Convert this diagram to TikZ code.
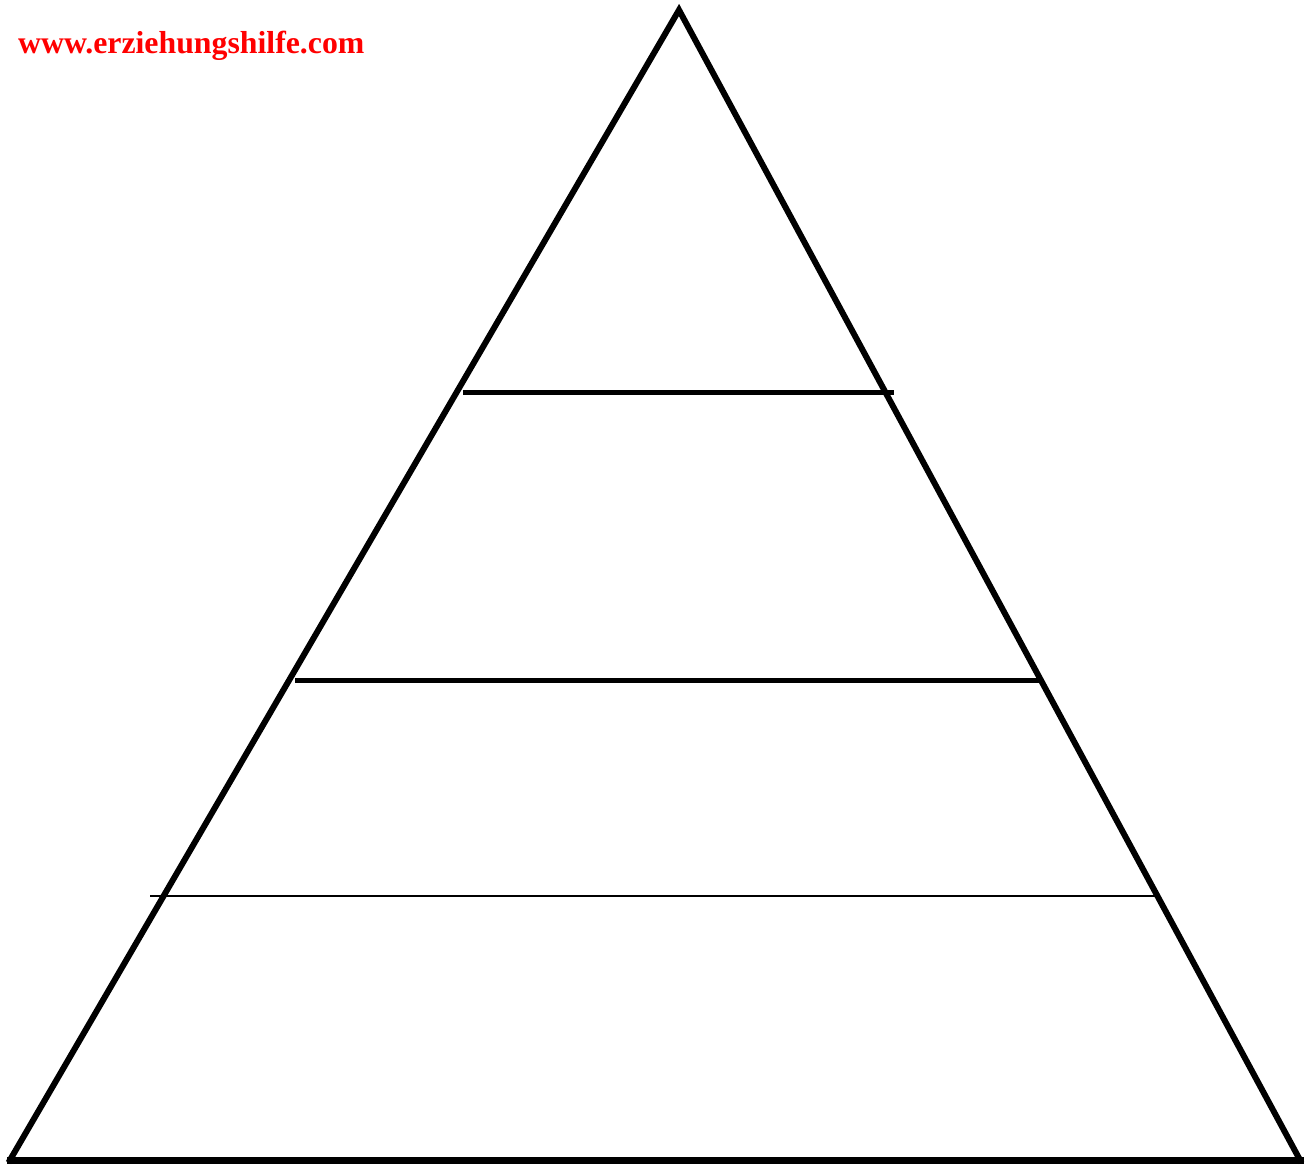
\documentclass[tikz,border=0pt]{standalone}
\usepackage{fontspec}
\setmainfont{Liberation Serif}
\usetikzlibrary{calc}

\begin{document}
\begin{tikzpicture}[x=1pt, y=-1pt, line cap=rect,
  side/.style={line width=6pt},
  level/.style={line width=5pt, line cap=butt},
  thinlevel/.style={line width=2pt, line cap=butt}]
\useasboundingbox (0,0) rectangle (1316,1165);
% Pyramide
\coordinate (apex) at (679,10);
\coordinate (bl) at (10,1160);
\coordinate (br) at (1300,1160);
\draw[side] (bl) -- (apex) -- (br);
\draw[line width=7pt] (bl) -- (br);
% Stufen
\coordinate (s1l) at (463,392);
\coordinate (s1r) at (894,392);
\coordinate (s2l) at (295,680);
\coordinate (s2r) at (1040,680);
\coordinate (s3l) at (150,896);
\coordinate (s3r) at (1157,896);
\draw[level] (s1l) -- (s1r);
\draw[level] (s2l) -- (s2r);
\draw[thinlevel] (s3l) -- (s3r);
% Adresse
\node[anchor=base west, inner sep=0pt, text=red,
  font=\fontsize{31.8}{36}\selectfont\bfseries] (web) at (18,53)
  {www.erziehungshilfe.com};
\end{tikzpicture}
\end{document}
